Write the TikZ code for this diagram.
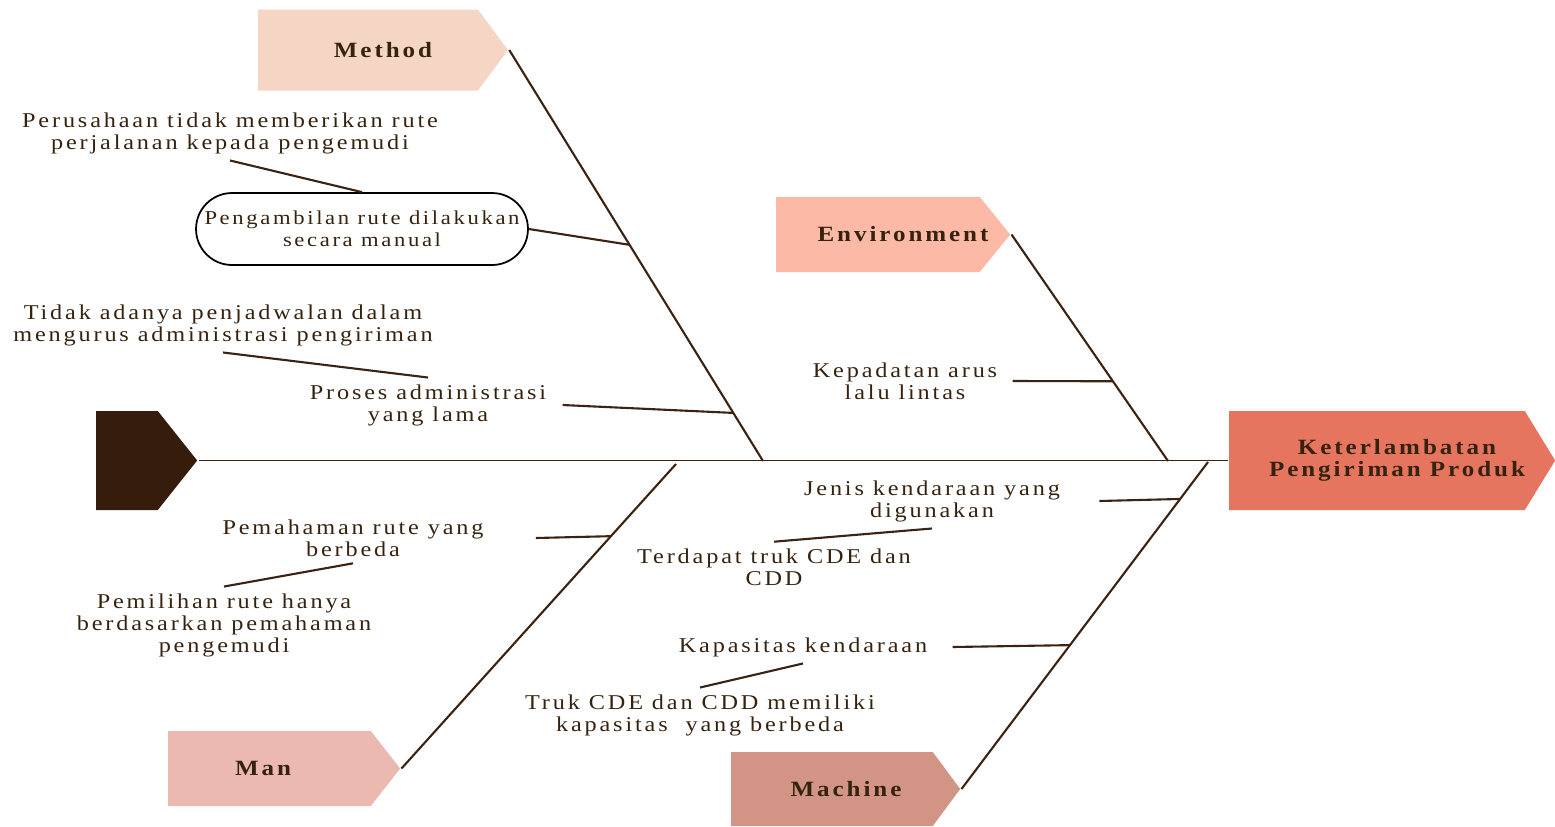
\documentclass[tikz,border=0pt]{standalone}
\usepackage{fontspec}
\setmainfont{Liberation Serif}[LetterSpace=13.5,FakeStretch=1.15]
\usetikzlibrary{shapes.symbols,shapes.misc}

\definecolor{ink}{HTML}{35220F}
\definecolor{bone}{HTML}{3B2314}
\definecolor{methodc}{HTML}{F5D6C4}
\definecolor{envc}{HTML}{FCBAA6}
\definecolor{manc}{HTML}{EBB9AF}
\definecolor{machc}{HTML}{D29485}
\definecolor{effectc}{HTML}{E6755F}
\definecolor{tailc}{HTML}{361C0A}

\begin{document}
\begin{tikzpicture}[x=0.02cm,y=-0.02cm,color=bone,line width=1.2pt,
  font=\fontsize{12}{12.5}\selectfont]
  \tikzstyle{cause}=[signal,signal to=east,draw=none,inner sep=0pt]
  \tikzstyle{title}=[text=ink,align=center,font=\fontsize{12.4}{12.5}\selectfont\bfseries]
  \tikzstyle{note}=[text=ink,align=center]
  \useasboundingbox (0,0) rectangle (1555,826);

  % head, tail and category boxes
  \node[cause,fill=tailc,minimum width=2.02cm,minimum height=1.98cm,
    signal pointer angle=103] (tail) at (127,460.5) {};
  \node[cause,fill=effectc,minimum width=6.52cm,minimum height=1.98cm,
    signal pointer angle=117,
    label={[title,xshift=0.4cm]center:Keterlambatan\\Pengiriman Produk}]
    (effect) at (1377,460.5) {};
  \node[cause,fill=methodc,minimum width=5cm,minimum height=1.62cm,
    signal pointer angle=107,label={[title,xshift=0.3cm]center:Method}]
    (method) at (368,50) {};
  \node[cause,fill=envc,minimum width=4.68cm,minimum height=1.5cm,
    signal pointer angle=102,label={[title,xshift=0.5cm]center:Environment}]
    (env) at (878,234.5) {};
  \node[cause,fill=manc,minimum width=4.64cm,minimum height=1.5cm,
    signal pointer angle=104,label={[title,xshift=-0.13cm]center:Man}]
    (man) at (269.5,768.5) {};
  \node[cause,fill=machc,minimum width=4.58cm,minimum height=1.48cm,
    signal pointer angle=107,label={[title,xshift=0.28cm]center:Machine}]
    (mach) at (832,789) {};

  % spine and bones
  \coordinate (m0) at (763,461);
  \coordinate (e0) at (1168,461);
  \coordinate (n0) at (676,464);
  \coordinate (c0) at (1208,462);
  \draw[line width=1pt] (tail.east) -- (effect.west);
  \draw (method.east) -- (m0) coordinate[pos=0.474] (mb1) coordinate[pos=0.883] (mb2);
  \draw (env.east) -- (e0) coordinate[pos=0.648] (eb1);
  \draw (man.east) -- (n0) coordinate[pos=0.763] (nb1);
  \draw (mach.east) -- (c0) coordinate[pos=0.887] (cb1) coordinate[pos=0.44] (cb2);

  % method
  \node[note] (perusahaan) at (230,133)
    {Perusahaan tidak memberikan rute\\perjalanan kepada pengemudi};
  \node[note,rounded rectangle,draw=black,line width=1pt,minimum width=6.64cm,
    minimum height=1.44cm,inner sep=0pt,font=\fontsize{11.2}{12.5}\selectfont]
    (manual) at (362,229) {Pengambilan rute dilakukan\\secara manual};
  \node[note] (tidak) at (223,325)
    {Tidak adanya penjadwalan dalam\\mengurus administrasi pengiriman};
  \node[note] (proses) at (428,405) {Proses administrasi\\yang lama};
  \draw (manual.east) -- (mb1);
  \draw (manual.north) -- (perusahaan.south);
  \draw ([xshift=0.19cm]proses.east) -- (mb2);
  \draw (tidak.south) -- (proses.north);

  % environment
  \node[note] (padat) at (905,381) {Kepadatan arus\\lalu lintas};
  \draw ([xshift=0.17cm]padat.east) -- (eb1);

  % machine
  \node[note] (jenis) at (932,501) {Jenis kendaraan yang\\digunakan};
  \node[note] (truk) at (774,567) {Terdapat truk CDE dan\\CDD};
  \node[note] (kapasitas) at (803,647) {Kapasitas kendaraan};
  \node[note] (beda) at (700,715)
    {Truk CDE dan CDD memiliki\\kapasitas\ \ yang berbeda};
  \draw ([xshift=0.65cm]jenis.east) -- (cb1);
  \draw (jenis.south) -- (truk.north);
  \draw ([xshift=0.37cm]kapasitas.east) -- (cb2);
  \draw (kapasitas.south) -- (beda.north);

  % man
  \node[note] (paham) at (353,538) {Pemahaman rute yang\\berbeda};
  \node[note] (pilih) at (224,625)
    {Pemilihan rute hanya\\berdasarkan pemahaman\\pengemudi};
  \draw ([xshift=0.91cm]paham.east) -- (nb1);
  \draw (paham.south) -- (pilih.north);
\end{tikzpicture}
\end{document}
